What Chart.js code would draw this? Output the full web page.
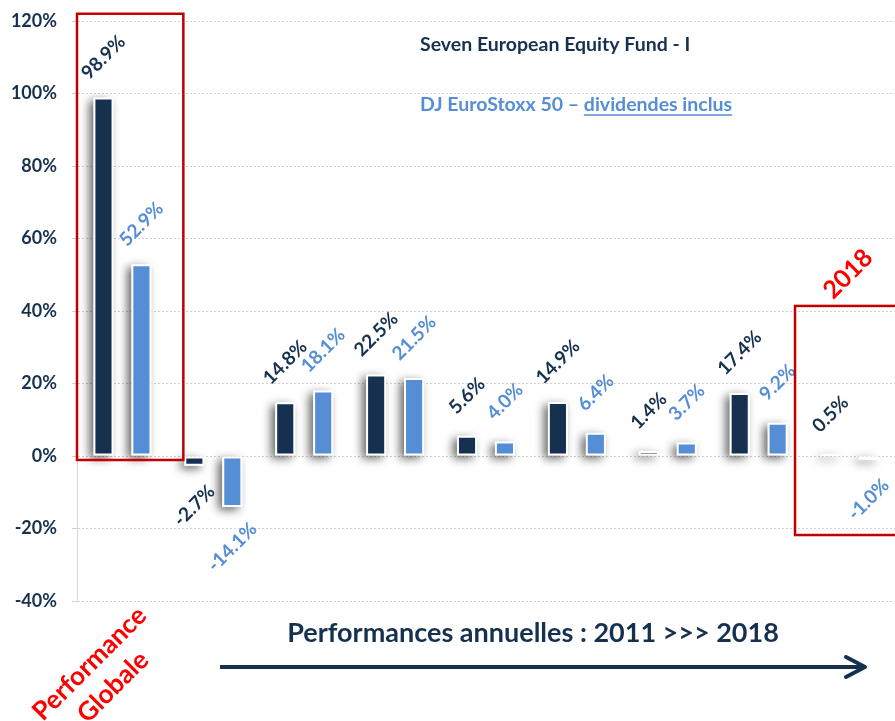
<!DOCTYPE html>
<html>
<head>
<meta charset="utf-8">
<script src="https://cdn.jsdelivr.net/npm/chart.js@4"></script>
<style>
  html, body { margin: 0; padding: 0; background: #fff; }
  #wrap { width: 895px; height: 721px; position: relative; }
</style>
</head>
<body>
<div id="wrap"><canvas id="perfChart" width="895" height="721"></canvas></div>
<script>
// données
const categories = ['Performance Globale', '2011', '2012', '2013', '2014', '2015', '2016', '2017', '2018'];
const fundValues = [98.9, -2.7, 14.8, 22.5, 5.6, 14.9, 1.4, 17.4, 0.5];
const indexValues = [52.9, -14.1, 18.1, 21.5, 4.0, 6.4, 3.7, 9.2, -1.0];
const seriesNames = ['Seven European Equity Fund - I', 'DJ EuroStoxx 50 – dividendes inclus'];
const yTickValues = [-40, -20, 0, 20, 40, 60, 80, 100, 120];

const NAVY = '#15314F';
const BLUE = '#558ED5';
const RED = '#FF0000';
const BOX_RED = '#C00000';
const FONT = 'Lato, "Open Sans", sans-serif';

// ombre portée sous les barres
const shadowPlugin = {
    id: 'barShadow',
    beforeDatasetsDraw(chart) {
        const ctx = chart.ctx;
        ctx.save();
        ctx.shadowColor = 'rgba(0,0,0,0.6)';
        ctx.shadowBlur = 10;
        ctx.shadowOffsetX = -4;
        ctx.shadowOffsetY = 3;
        ctx.fillStyle = '#fff';
        chart.data.datasets.forEach((ds, i) => {
            chart.getDatasetMeta(i).data.forEach(bar => {
                const top = Math.min(bar.y, bar.base);
                const h = Math.max(Math.abs(bar.y - bar.base), 2);
                ctx.fillRect(bar.x - bar.width / 2, top, bar.width, h);
            });
        });
        ctx.restore();
    }
};

// étiquettes, légende, cadres et annotations
const overlayPlugin = {
    id: 'overlay',
    afterDraw(chart) {
        const ctx = chart.ctx;
        const x = chart.scales.x;
        const y = chart.scales.y;

        // étiquettes de valeurs inclinées
        chart.data.datasets.forEach((ds, i) => {
            const color = i === 0 ? NAVY : BLUE;
            chart.getDatasetMeta(i).data.forEach((bar, j) => {
                const v = ds.data[j];
                const cy = v >= 0 ? bar.y - 40 : bar.y + 40;
                ctx.save();
                ctx.translate(bar.x, cy);
                ctx.rotate(-Math.PI / 4);
                ctx.font = 'bold 19px ' + FONT;
                ctx.fillStyle = color;
                ctx.textAlign = 'center';
                ctx.textBaseline = 'middle';
                ctx.fillText(v.toFixed(1) + '%', 0, 0);
                ctx.restore();
            });
        });

        // cadres rouges
        ctx.save();
        ctx.strokeStyle = BOX_RED;
        ctx.lineWidth = 2.5;
        let x1 = x.getPixelForValue(-0.5), x2 = x.getPixelForValue(0.67);
        let y1 = y.getPixelForValue(122), y2 = y.getPixelForValue(-1.1);
        ctx.strokeRect(x1, y1, x2 - x1, y2 - y1);
        x1 = x.getPixelForValue(7.4); x2 = x.getPixelForValue(9);
        y1 = y.getPixelForValue(41.4); y2 = y.getPixelForValue(-21.8);
        ctx.strokeRect(x1, y1, x2 - x1, y2 - y1);
        ctx.restore();

        // légende en texte
        ctx.save();
        ctx.font = 'bold 19.5px ' + FONT;
        ctx.textAlign = 'left';
        ctx.textBaseline = 'middle';
        ctx.fillStyle = NAVY;
        ctx.fillText(seriesNames[0], 420, 45);
        ctx.fillStyle = BLUE;
        ctx.fillText(seriesNames[1], 420, 105);
        const pre = 'DJ EuroStoxx 50 – ';
        const ux1 = 420 + ctx.measureText(pre).width;
        const ux2 = 420 + ctx.measureText(seriesNames[1]).width;
        ctx.strokeStyle = BLUE;
        ctx.lineWidth = 1.5;
        ctx.beginPath();
        ctx.moveTo(ux1, 115);
        ctx.lineTo(ux2, 115);
        ctx.stroke();
        ctx.restore();

        // textes rouges inclinés
        ctx.save();
        ctx.fillStyle = RED;
        ctx.font = 'bold 25px ' + FONT;
        ctx.textAlign = 'center';
        ctx.textBaseline = 'middle';
        ctx.translate(848, 274);
        ctx.rotate(-Math.PI / 4);
        ctx.fillText('2018', 0, 0);
        ctx.restore();

        ctx.save();
        ctx.fillStyle = RED;
        ctx.font = 'bold 26px ' + FONT;
        ctx.textAlign = 'center';
        ctx.textBaseline = 'middle';
        ctx.translate(101, 675);
        ctx.rotate(-Math.PI / 4);
        ctx.fillText('Performance', 0, -16);
        ctx.fillText('Globale', 0, 17);
        ctx.restore();

        // flèche des performances annuelles
        ctx.save();
        ctx.fillStyle = NAVY;
        ctx.font = 'bold 27px ' + FONT;
        ctx.textAlign = 'center';
        ctx.textBaseline = 'middle';
        ctx.fillText('Performances annuelles : 2011 >>> 2018', 533, 633);
        ctx.strokeStyle = NAVY;
        ctx.lineWidth = 4;
        ctx.beginPath();
        ctx.moveTo(220, 667);
        ctx.lineTo(864, 667);
        ctx.stroke();
        ctx.lineCap = 'round';
        ctx.lineJoin = 'round';
        ctx.beginPath();
        ctx.moveTo(846, 657);
        ctx.lineTo(865, 667);
        ctx.lineTo(846, 677);
        ctx.stroke();
        ctx.restore();
    }
};

const ctx = document.getElementById('perfChart').getContext('2d');
new Chart(ctx, {
    type: 'bar',
    data: {
        labels: categories,
        datasets: [{
            label: seriesNames[0],
            data: fundValues,
            backgroundColor: NAVY,
            borderColor: '#fff',
            borderWidth: 2,
            borderSkipped: false,
            categoryPercentage: 0.835,
            barPercentage: 0.53
        }, {
            label: seriesNames[1],
            data: indexValues,
            backgroundColor: BLUE,
            borderColor: '#fff',
            borderWidth: 2,
            borderSkipped: false,
            categoryPercentage: 0.835,
            barPercentage: 0.53
        }]
    },
    options: {
        responsive: false,
        animation: false,
        layout: { padding: { top: 21, bottom: 120, left: 0, right: 0 } },
        plugins: {
            legend: { display: false },
            tooltip: { enabled: false }
        },
        scales: {
            x: { display: false },
            y: {
                min: -40,
                max: 120,
                afterFit(scale) {
                    scale.width = 77;
                    scale.paddingTop = 0;
                    scale.paddingBottom = 0;
                },
                afterBuildTicks(scale) { scale.ticks = yTickValues.map(v => ({ value: v })); },
                ticks: {
                    padding: 15,
                    color: NAVY,
                    font: { family: FONT, size: 18, weight: 'bold' },
                    callback: v => v + '%'
                },
                grid: { color: '#D0D0D0', lineWidth: 1, tickLength: 5 },
                border: { display: true, color: '#D9D9D9', width: 1, dash: [2, 2] }
            }
        }
    },
    plugins: [shadowPlugin, overlayPlugin]
});
</script>
</body>
</html>
